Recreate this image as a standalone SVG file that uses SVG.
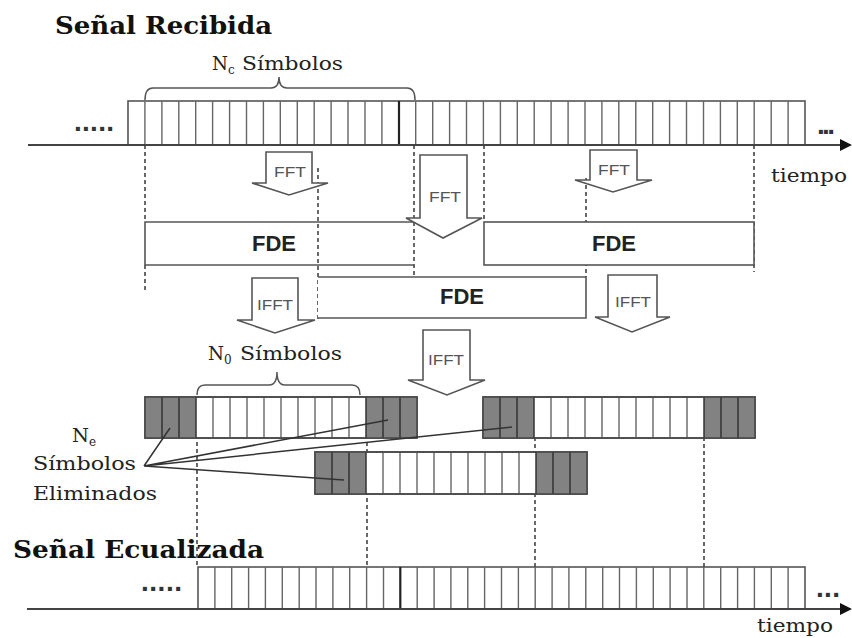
<svg xmlns="http://www.w3.org/2000/svg" width="852" height="638" viewBox="0 0 852 638">
<style>
.cell{stroke:#666;stroke-width:1.4;fill:none}
.frame{fill:#fff;stroke:#555;stroke-width:1.6}
.open{fill:none;stroke:#555;stroke-width:1.6}
.gray{fill:#828282;stroke:none}
.gdiv{stroke:#333;stroke-width:1.5;fill:none}
.dash{stroke:#444;stroke-width:1.6;stroke-dasharray:4 3;fill:none}
.axis{stroke:#444;stroke-width:2;fill:none}
.arrow{fill:#fff;stroke:#555;stroke-width:1.6;stroke-linejoin:miter}
.lbl{font-family:"Liberation Sans",Arial,sans-serif;font-size:15px;fill:#555;text-anchor:middle}
.fde{font-family:"Liberation Sans",Arial,sans-serif;font-weight:bold;font-size:22px;fill:#222;text-anchor:middle}
.serif{font-family:"DejaVu Serif","Liberation Serif",serif;fill:#222;font-size:19px}
.sub{font-family:"DejaVu Serif","Liberation Serif",serif;fill:#222;font-size:12px}
.title{font-family:"DejaVu Serif","Liberation Serif",serif;font-weight:bold;font-size:24px;fill:#111}
.dots{font-family:"Liberation Sans",Arial,sans-serif;font-weight:bold;font-size:28px;fill:#333}
.link{stroke:#333;stroke-width:1.5;fill:none}
.brace{stroke:#555;stroke-width:1.5;fill:none}
</style>
<rect width="852" height="638" fill="#fff"/>

<g id="titles">
<text class="title" x="55" y="34" textLength="217" lengthAdjust="spacingAndGlyphs">Señal Recibida</text>
<text class="title" x="13" y="558" textLength="251" lengthAdjust="spacingAndGlyphs">Señal Ecualizada</text>
</g>

<g id="senal-recibida">
<rect class="frame" x="128" y="101" width="677" height="44"/>
<path class="cell" d="M144.9 101V145M161.9 101V145M178.8 101V145M195.7 101V145M212.6 101V145M229.6 101V145M246.5 101V145M263.4 101V145M280.3 101V145M297.3 101V145M314.2 101V145M331.1 101V145M348 101V145M365 101V145M381.9 101V145M415.7 101V145M432.7 101V145M449.6 101V145M466.5 101V145M483.4 101V145M500.4 101V145M517.3 101V145M534.2 101V145M551.1 101V145M568.1 101V145M585 101V145M601.9 101V145M618.8 101V145M635.8 101V145M652.7 101V145M669.6 101V145M686.5 101V145M703.5 101V145M720.4 101V145M737.3 101V145M754.2 101V145M771.2 101V145M788.1 101V145"/>
<path d="M399 101V145" stroke="#222" stroke-width="2.2"/>
<path class="axis" d="M28 145H842"/>
<polygon points="840,139 852,145 840,151" fill="#111"/>
<text class="dots" x="74" y="131" textLength="40" lengthAdjust="spacing">.....</text>
<text class="dots" x="817" y="134" textLength="18" lengthAdjust="spacing">...</text>
<text class="serif" x="771" y="182" textLength="76" lengthAdjust="spacingAndGlyphs">tiempo</text>
</g>

<g id="senal-ecualizada">
<rect class="frame" x="198" y="567" width="607" height="42"/>
<path class="cell" d="M214.9 567V609M231.7 567V609M248.6 567V609M265.4 567V609M282.3 567V609M299.2 567V609M316 567V609M332.9 567V609M349.7 567V609M366.6 567V609M383.5 567V609M417.2 567V609M434.1 567V609M450.9 567V609M467.8 567V609M484.6 567V609M501.5 567V609M518.4 567V609M535.2 567V609M552.1 567V609M568.9 567V609M585.8 567V609M602.7 567V609M619.5 567V609M636.4 567V609M653.3 567V609M670.1 567V609M687 567V609M703.8 567V609M720.7 567V609M737.6 567V609M754.4 567V609M771.3 567V609M788.1 567V609"/>
<path d="M400.3 567V609" stroke="#222" stroke-width="2.2"/>
<path class="axis" d="M27 609H842"/>
<polygon points="840,603 852,609 840,615" fill="#111"/>
<text class="dots" x="141" y="591" textLength="41" lengthAdjust="spacing">.....</text>
<text class="dots" x="816" y="597" textLength="24" lengthAdjust="spacing">...</text>
<text class="serif" x="757" y="632" textLength="76" lengthAdjust="spacingAndGlyphs">tiempo</text>
</g>

<g id="connectors">
<path class="dash" d="M145 145V222M145 265V290"/>
<path class="dash" d="M318 168V320"/>
<path class="dash" d="M414 145V277"/>
<path class="dash" d="M484 145V222"/>
<path class="dash" d="M586 178V277"/>
<path class="dash" d="M754 145V272"/>
<path class="dash" d="M197 428V567"/>
<path class="dash" d="M367 428V567"/>
<path class="dash" d="M535 430V567"/>
<path class="dash" d="M704 437V567"/>
<path class="brace" d="M145 100Q145 88 153 88H271Q279 88 279 77Q279 88 287 88H407Q415 88 415 100"/>
<path class="brace" d="M197 395Q197 385 205 385H269Q277 385 277 372Q277 385 285 385H352Q360 385 360 395"/>
</g>

<g id="fde1">
<path class="open" d="M414 222H145V265H414"/>
<text class="fde" x="274" y="251">FDE</text>
</g>
<g id="fde3">
<rect class="frame" x="484" y="222" width="270" height="43" fill="none"/>
<text class="fde" x="614" y="251">FDE</text>
</g>
<g id="fde2">
<path class="frame" d="M318 277H586V318H318"/>
<text class="fde" x="462" y="304">FDE</text>
</g>

<g id="fft1">
<path class="arrow" d="M266 152H312V183H328L289 195L252 183H266Z"/>
<text class="lbl" x="290" y="177" textLength="32" lengthAdjust="spacingAndGlyphs">FFT</text>
</g>
<g id="fft2">
<path class="arrow" d="M420 155H467V218H482L443 238L406 218H420Z"/>
<text class="lbl" x="445" y="202" textLength="32" lengthAdjust="spacingAndGlyphs">FFT</text>
</g>
<g id="fft3">
<path class="arrow" d="M590 150H637V180H652L613 192L575 180H590Z"/>
<text class="lbl" x="614" y="175" textLength="32" lengthAdjust="spacingAndGlyphs">FFT</text>
</g>
<g id="ifft1">
<path class="arrow" d="M252 278H298V320H315L275 333L237 320H252Z"/>
<text class="lbl" x="275" y="310" textLength="36" lengthAdjust="spacingAndGlyphs">IFFT</text>
</g>
<g id="ifft2">
<path class="arrow" d="M608 275H657V317H670L632 332L595 317H608Z"/>
<text class="lbl" x="633" y="307" textLength="36" lengthAdjust="spacingAndGlyphs">IFFT</text>
</g>
<g id="ifft3">
<path class="arrow" d="M423 330H470V380H485L447 395L408 380H423Z"/>
<text class="lbl" x="446" y="365" textLength="36" lengthAdjust="spacingAndGlyphs">IFFT</text>
</g>

<g id="bloque-a">
<rect class="frame" x="145" y="397" width="272" height="41"/>
<rect class="gray" x="145" y="397" width="51" height="41"/>
<rect class="gray" x="366" y="397" width="51" height="41"/>
<path class="cell" d="M213 397V438M230 397V438M247 397V438M264 397V438M281 397V438M298 397V438M315 397V438M332 397V438M349 397V438"/>
<path class="gdiv" d="M162 397V438M179 397V438M196 397V438M366 397V438M383 397V438M400 397V438"/>
<rect x="145" y="397" width="272" height="41" fill="none" stroke="#444" stroke-width="1.5"/>
</g>
<g id="bloque-b">
<rect class="frame" x="483" y="397" width="272" height="41"/>
<rect class="gray" x="483" y="397" width="51" height="41"/>
<rect class="gray" x="704" y="397" width="51" height="41"/>
<path class="cell" d="M551 397V438M568 397V438M585 397V438M602 397V438M619 397V438M636 397V438M653 397V438M670 397V438M687 397V438"/>
<path class="gdiv" d="M500 397V438M517 397V438M534 397V438M704 397V438M721 397V438M738 397V438"/>
<rect x="483" y="397" width="272" height="41" fill="none" stroke="#444" stroke-width="1.5"/>
</g>
<g id="bloque-c">
<rect class="frame" x="315" y="452" width="272" height="42"/>
<rect class="gray" x="315" y="452" width="51" height="42"/>
<rect class="gray" x="536" y="452" width="51" height="42"/>
<path class="cell" d="M383 452V494M400 452V494M417 452V494M434 452V494M451 452V494M468 452V494M485 452V494M502 452V494M519 452V494"/>
<path class="gdiv" d="M332 452V494M349 452V494M366 452V494M536 452V494M553 452V494M570 452V494"/>
<rect x="315" y="452" width="272" height="42" fill="none" stroke="#444" stroke-width="1.5"/>
</g>

<g id="etiquetas">
<text class="serif" x="212" y="70" textLength="16" lengthAdjust="spacingAndGlyphs">N</text>
<text class="sub" x="228" y="74">c</text>
<text class="serif" x="242" y="70" textLength="101" lengthAdjust="spacingAndGlyphs">Símbolos</text>
<text class="serif" x="208" y="360" textLength="16" lengthAdjust="spacingAndGlyphs">N</text>
<text class="sub" x="224" y="364">0</text>
<text class="serif" x="240" y="360" textLength="102" lengthAdjust="spacingAndGlyphs">Símbolos</text>
<text class="serif" x="72" y="442" textLength="17" lengthAdjust="spacingAndGlyphs">N</text>
<text class="sub" x="89" y="446">e</text>
<text class="serif" x="33" y="470" textLength="103" lengthAdjust="spacingAndGlyphs">Símbolos</text>
<text class="serif" x="33" y="500" textLength="124" lengthAdjust="spacingAndGlyphs">Eliminados</text>
</g>

<g id="enlaces">
<path class="link" d="M144 466L170 428M144 466L388 420M144 466L512 427M144 466L344 480"/>
</g>
</svg>
